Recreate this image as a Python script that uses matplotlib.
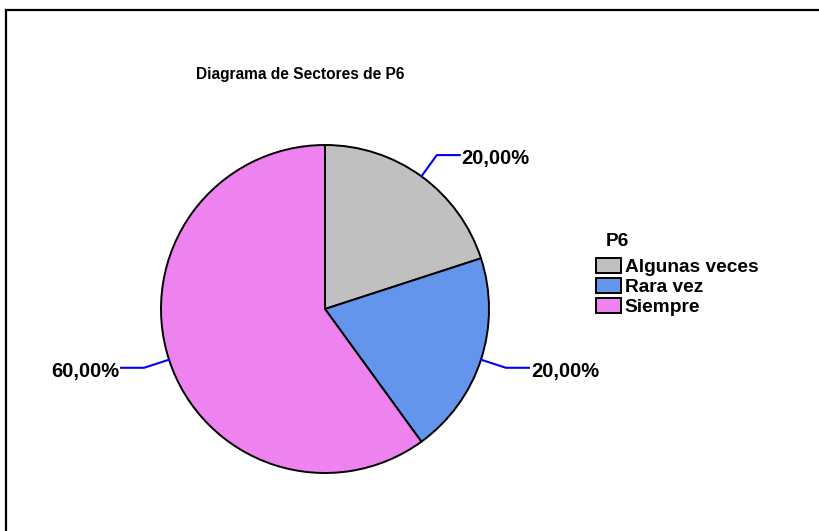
import numpy as np
import matplotlib
matplotlib.use('Agg')
import matplotlib.pyplot as plt
from matplotlib.lines import Line2D

plt.rcParams['font.family'] = ['Liberation Sans', 'DejaVu Sans']

# data
categories = ['Algunas veces', 'Rara vez', 'Siempre']
values = [20.0, 20.0, 60.0]
colors = ['#C0C0C0', '#6495ED', '#EE82EE']
title = 'Diagrama de Sectores de P6'
legend_title = 'P6'

W, H = 820, 531
fig = plt.figure(figsize=(W / 100, H / 100), dpi=100)

# frame lines (top and left only, as in the reference)
fig.add_artist(Line2D([6.5 / W, 6.5 / W], [0, 1 - 9.5 / H], color='black', lw=1.6))
fig.add_artist(Line2D([6.5 / W, 1], [1 - 9.5 / H, 1 - 9.5 / H], color='black', lw=1.6))

cx, cy, r = 325, 309, 164
ax = fig.add_axes([(cx - r) / W, (H - cy - r) / H, 2 * r / W, 2 * r / H])
wedges, _ = ax.pie(values, colors=colors, startangle=90, counterclock=False,
                   radius=1, wedgeprops=dict(edgecolor='black', linewidth=1.4))
ax.set_xlim(-1, 1)
ax.set_ylim(-1, 1)
ax.axis('off')

# percentage labels with leader lines
for w, v in zip(wedges, values):
    mid = np.deg2rad((w.theta1 + w.theta2) / 2)
    x0, y0 = np.cos(mid), np.sin(mid)
    x1, y1 = 1.16 * x0, 1.16 * y0
    side = 1 if x0 > 0 else -1
    x2 = x1 + side * 0.14
    ax.plot([x0, x1, x2], [y0, y1, y1], color='#0000FF', lw=1.5, clip_on=False)
    txt = f'{v:.2f}%'.replace('.', ',')
    ax.text(x2 + side * 0.012, y1 - 0.02, txt, ha='left' if side > 0 else 'right',
            va='center', fontsize=14.5, fontweight='bold', clip_on=False)

fig.text(300 / W, 1 - 74 / H, title, ha='center', va='center',
         fontsize=11.2, fontweight='bold')

fig.text(606 / W, 1 - 242 / H, legend_title, ha='left', va='center',
         fontsize=13.8, fontweight='bold')
leg = fig.legend(wedges, categories, loc='upper left',
                 bbox_to_anchor=(594 / W, 1 - 256 / H), frameon=False,
                 prop=dict(size=13.8, weight='bold'),
                 handlelength=1.3, handleheight=0.85, handletextpad=0.2,
                 labelspacing=0.08, borderpad=0.1, borderaxespad=0)

fig.savefig('out.png', dpi=100, facecolor='white')
